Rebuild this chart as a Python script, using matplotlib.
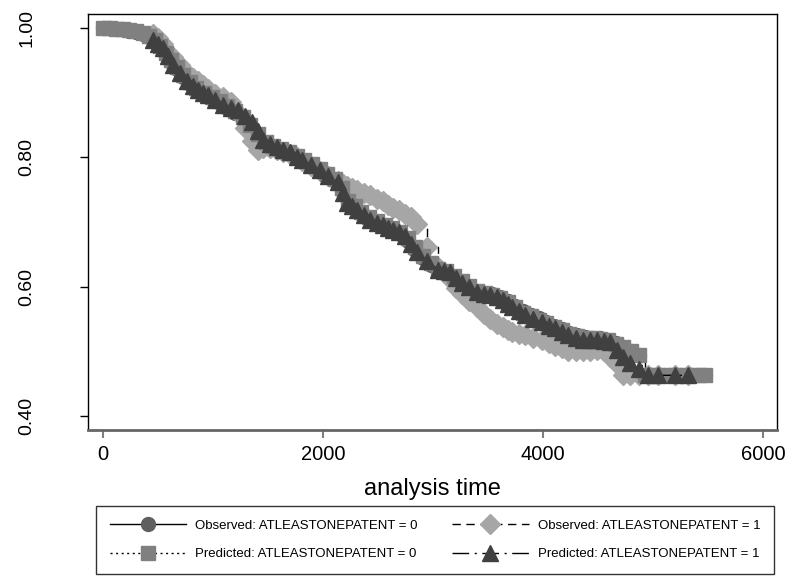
import matplotlib
matplotlib.use("Agg")
import matplotlib.pyplot as plt

plt.rcParams['font.family'] = ['Liberation Sans', 'DejaVu Sans']

# group 0 (ATLEASTONEPATENT = 0): times, observed KM, predicted
t0 = [0, 60, 120, 180, 240, 300, 360, 420, 470, 520, 570, 620, 670, 730, 790, 850,
      920, 990, 1060, 1130, 1200, 1270, 1340, 1410, 1480, 1550, 1620, 1690, 1760,
      1830, 1900, 1970, 2040, 2110, 2170, 2230, 2290, 2350, 2420, 2490, 2560, 2630,
      2700, 2770, 2840, 2910, 2980, 3050, 3120, 3190, 3260, 3330, 3400, 3470, 3540,
      3610, 3680, 3750, 3820, 3890, 3960, 4030, 4100, 4170, 4240, 4310, 4380, 4450,
      4520, 4590, 4660, 4730, 4800, 4870, 4930, 5000, 5100, 5200, 5300, 5400, 5470]
obs0 = [1.000, 1.000, 0.999, 0.998, 0.996, 0.994, 0.991, 0.986, 0.979, 0.970, 0.958,
        0.947, 0.936, 0.924, 0.913, 0.904, 0.897, 0.890, 0.884, 0.877, 0.869, 0.859,
        0.846, 0.833, 0.822, 0.816, 0.811, 0.806, 0.800, 0.794, 0.787, 0.780, 0.772,
        0.763, 0.748, 0.730, 0.721, 0.713, 0.704, 0.698, 0.692, 0.687, 0.681, 0.671,
        0.657, 0.644, 0.634, 0.626, 0.622, 0.615, 0.607, 0.600, 0.594, 0.591, 0.588,
        0.584, 0.578, 0.570, 0.562, 0.556, 0.551, 0.546, 0.540, 0.535, 0.529, 0.525,
        0.522, 0.521, 0.520, 0.518, 0.513, 0.507, 0.500, 0.494, 0.463, 0.463, 0.463,
        0.463, 0.463, 0.463, 0.463]
pred0 = [1.000, 1.000, 0.999, 0.998, 0.997, 0.995, 0.992, 0.988, 0.981, 0.972, 0.962,
         0.951, 0.940, 0.928, 0.916, 0.907, 0.900, 0.893, 0.887, 0.880, 0.872, 0.862,
         0.850, 0.836, 0.824, 0.818, 0.813, 0.808, 0.802, 0.796, 0.789, 0.782, 0.774,
         0.766, 0.752, 0.733, 0.724, 0.716, 0.707, 0.701, 0.695, 0.690, 0.684, 0.675,
         0.661, 0.648, 0.637, 0.628, 0.624, 0.617, 0.609, 0.601, 0.594, 0.590, 0.587,
         0.583, 0.576, 0.568, 0.560, 0.554, 0.549, 0.544, 0.538, 0.533, 0.527, 0.523,
         0.520, 0.520, 0.519, 0.517, 0.512, 0.506, 0.500, 0.494, 0.463, 0.463, 0.463,
         0.463, 0.463, 0.463, 0.463]

# group 1 (ATLEASTONEPATENT = 1)
t1 = [455, 500, 545, 590, 636, 700, 760, 820, 864, 910, 955, 1020, 1091, 1160, 1227,
      1290, 1355, 1410, 1455, 1520, 1582, 1640, 1700, 1760, 1809, 1890, 1973, 2050,
      2136, 2180, 2218, 2260, 2309, 2370, 2427, 2490, 2545, 2590, 2636, 2690, 2745,
      2800, 2855, 2950, 3045, 3100, 3155, 3210, 3264, 3330, 3400, 3460, 3518, 3580,
      3636, 3680, 3718, 3780, 3836, 3910, 3991, 4050, 4109, 4170, 4227, 4300, 4364,
      4430, 4491, 4550, 4609, 4673, 4727, 4791, 4870, 4955, 5045, 5200, 5318]
obs1 = [0.990, 0.985, 0.975, 0.962, 0.955, 0.942, 0.930, 0.922, 0.918, 0.912, 0.905,
        0.898, 0.893, 0.885, 0.868, 0.845, 0.825, 0.812, 0.815, 0.815, 0.812, 0.808,
        0.805, 0.800, 0.794, 0.787, 0.779, 0.771, 0.764, 0.758, 0.755, 0.752, 0.750,
        0.745, 0.741, 0.736, 0.732, 0.727, 0.722, 0.718, 0.713, 0.708, 0.697, 0.662,
        0.630, 0.622, 0.612, 0.598, 0.588, 0.578, 0.568, 0.558, 0.550, 0.543, 0.538,
        0.533, 0.530, 0.527, 0.525, 0.521, 0.517, 0.513, 0.509, 0.505, 0.500, 0.500,
        0.500, 0.500, 0.502, 0.500, 0.492, 0.480, 0.463, 0.463, 0.463, 0.463, 0.463,
        0.463, 0.463]
pred1 = [0.981, 0.975, 0.969, 0.956, 0.943, 0.930, 0.918, 0.910, 0.904, 0.900, 0.896,
         0.889, 0.881, 0.877, 0.873, 0.864, 0.855, 0.840, 0.827, 0.821, 0.816, 0.812,
         0.808, 0.801, 0.796, 0.788, 0.780, 0.771, 0.762, 0.745, 0.729, 0.724, 0.719,
         0.711, 0.703, 0.699, 0.695, 0.691, 0.688, 0.684, 0.678, 0.666, 0.654, 0.640,
         0.626, 0.625, 0.623, 0.614, 0.606, 0.599, 0.592, 0.589, 0.587, 0.584, 0.580,
         0.574, 0.569, 0.562, 0.556, 0.550, 0.545, 0.540, 0.536, 0.530, 0.525, 0.521,
         0.518, 0.518, 0.518, 0.516, 0.514, 0.502, 0.491, 0.482, 0.472, 0.463, 0.463,
         0.463, 0.463]

labels = ["Observed: ATLEASTONEPATENT = 0", "Observed: ATLEASTONEPATENT = 1",
          "Predicted: ATLEASTONEPATENT = 0", "Predicted: ATLEASTONEPATENT = 1"]
xticks = [0, 2000, 4000, 6000]
yticks = [0.40, 0.60, 0.80, 1.00]

fig = plt.figure(figsize=(7.94, 5.78), dpi=100)
ax = fig.add_axes([0.1108, 0.256, 0.8678, 0.7198])

h_obs0, = ax.plot(t0, obs0, color='black', lw=1, ls='-', drawstyle='steps-post',
                  marker='o', ms=10, mfc='#5f5f5f', mec='#5f5f5f', zorder=2)
h_obs1, = ax.plot(t1, obs1, color='black', lw=1, ls=(0, (6, 4)), drawstyle='steps-post',
                  marker='D', ms=10.5, mfc='#a6a6a6', mec='#a6a6a6', zorder=3)
h_pred0, = ax.plot(t0, pred0, color='black', lw=1, ls=(0, (1.5, 2.5)),
                   marker='s', ms=10, mfc='#808080', mec='#808080', zorder=4)
h_pred1, = ax.plot(t1, pred1, color='black', lw=1, ls=(0, (12, 4, 1.5, 4)),
                   marker='^', ms=11, mfc='#404040', mec='#404040', zorder=5)

ax.set_xlim(-136, 6127)
ax.set_ylim(0.3784, 1.0216)
ax.set_xticks(xticks)
ax.set_yticks(yticks)
ax.set_yticklabels(['%.2f' % v for v in yticks], rotation=90, va='center')
ax.tick_params(axis='y', labelsize=14, length=5.8, width=1, pad=32, colors='black')
ax.tick_params(axis='x', labelsize=14.5, length=5.8, width=1.5, pad=5, color='#808080',
               labelcolor='black')
ax.set_xlabel("analysis time", fontsize=17, labelpad=10)

for side in ['left', 'top', 'right']:
    ax.spines[side].set_linewidth(1)
    ax.spines[side].set_color('black')
ax.spines['bottom'].set_linewidth(2)
ax.spines['bottom'].set_color('#666666')

leg = fig.legend([h_obs0, h_pred0, h_obs1, h_pred1],
                 [labels[0], labels[2], labels[1], labels[3]],
                 ncol=2, loc='upper left',
                 bbox_to_anchor=(96 / 794, 1 - 506 / 578),
                 bbox_transform=fig.transFigure, fontsize=9.5, numpoints=1,
                 handlelength=5.8, handletextpad=0.7, borderaxespad=0,
                 columnspacing=2.6, labelspacing=1.23, borderpad=1.03,
                 fancybox=False, edgecolor='#333333', framealpha=1)
leg.get_frame().set_linewidth(1)

fig.savefig("out.png", dpi=100)
